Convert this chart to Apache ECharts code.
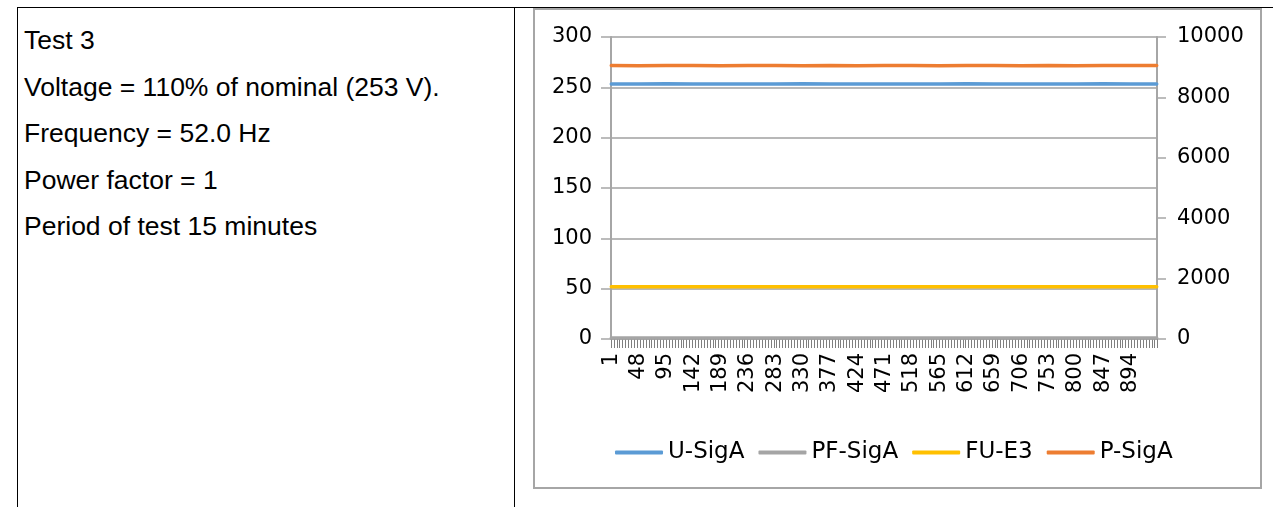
<!DOCTYPE html>
<html>
<head>
<meta charset="utf-8">
<script src="https://cdn.jsdelivr.net/npm/echarts@6/dist/echarts.min.js"></script>
<style>
  body { margin: 0; width: 1273px; height: 507px; position: relative; overflow: hidden; background: #fff; }
  .rule { position: absolute; background: #000; }
  .frame { position: absolute; left: 533px; top: 8px; width: 729px; height: 481px; box-sizing: border-box; border: 2px solid #a6a6a6; }
  .cell-text { position: absolute; left: 24px; font-family: "Liberation Sans", Arial, sans-serif; font-size: 26.5px; line-height: 30px; color: #000; white-space: nowrap; }
  #chart { position: absolute; left: 0; top: 0; width: 1273px; height: 507px; }
</style>
</head>
<body>
<div class="rule" style="left:17px; top:7px; width:1256px; height:1px;"></div>
<div class="rule" style="left:17px; top:7px; width:1px; height:500px;"></div>
<div class="rule" style="left:514px; top:7px; width:1px; height:500px;"></div>
<div class="frame"></div>
<div class="cell-text" style="top:25px;">Test 3</div>
<div class="cell-text" style="top:72px;">Voltage = 110% of nominal (253 V).</div>
<div class="cell-text" style="top:118px;">Frequency = 52.0 Hz</div>
<div class="cell-text" style="top:165px;">Power factor = 1</div>
<div class="cell-text" style="top:211px;">Period of test 15 minutes</div>
<div id="chart"></div>
<script>
// samples 1..939 (one per second, ~15 min)
const sampleCount = 939
const categories = []
for (let i = 1; i <= sampleCount; i++) categories.push(String(i))

// readings at these sample indexes
const readAt = [0, 47, 94, 141, 188, 235, 282, 329, 376, 423, 470, 517, 564, 611, 658, 705, 752, 799, 846, 893, 938]
const uSigA = [253.4, 253.4, 253.5, 253.4, 253.4, 253.4, 253.4, 253.5, 253.4, 253.4, 253.4, 253.4, 253.4, 253.5, 253.4, 253.4, 253.4, 253.4, 253.5, 253.4, 253.4]
const pfSigA = [1.0, 1.0, 1.0, 1.0, 1.0, 1.0, 1.0, 1.0, 1.0, 1.0, 1.0, 1.0, 1.0, 1.0, 1.0, 1.0, 1.0, 1.0, 1.0, 1.0, 1.0]
const fuE3 = [52.0, 52.0, 52.0, 52.0, 52.0, 52.0, 52.0, 52.0, 52.0, 52.0, 52.0, 52.0, 52.0, 52.0, 52.0, 52.0, 52.0, 52.0, 52.0, 52.0, 52.0]
const pSigA = [9055, 9050, 9060, 9055, 9048, 9058, 9055, 9052, 9060, 9050, 9055, 9057, 9050, 9058, 9055, 9052, 9057, 9050, 9055, 9053, 9056]

const leftTicks = { min: 0, max: 300, interval: 50 }
const rightTicks = { min: 0, max: 10000, interval: 2000 }

const chartFont = 'DejaVu Sans'
const pairs = vals => vals.map((v, i) => [readAt[i], v])

const chart = echarts.init(document.getElementById('chart'))

const lineSeries = (name, vals, color, axis) => ({
  name: name,
  type: 'line',
  yAxisIndex: axis,
  data: pairs(vals),
  showSymbol: false,
  animation: false,
  lineStyle: { color: color, width: 3.5, cap: 'round' },
  itemStyle: { color: color }
})

chart.setOption({
  textStyle: { fontFamily: chartFont },
  grid: { left: 611, right: 116, top: 37, bottom: 168 },
  legend: {
    left: 610,
    top: 436,
    icon: 'roundRect',
    itemWidth: 48,
    itemHeight: 4,
    itemGap: 14,
    textStyle: { fontFamily: chartFont, fontSize: 23, color: '#000' },
    data: ['U-SigA', 'PF-SigA', 'FU-E3', 'P-SigA']
  },
  xAxis: {
    type: 'category',
    data: categories,
    boundaryGap: true,
    axisLine: { show: true, lineStyle: { color: '#a6a6a6', width: 2 } },
    axisTick: { show: true, interval: 4, length: 9, lineStyle: { color: '#7f7f7f', width: 1 } },
    axisLabel: { interval: 46, rotate: 90, margin: 14, fontSize: 21, color: '#000' },
    splitLine: { show: false }
  },
  yAxis: [{
    type: 'value',
    min: leftTicks.min,
    max: leftTicks.max,
    interval: leftTicks.interval,
    axisLine: { show: true, lineStyle: { color: '#a6a6a6', width: 2 } },
    axisTick: { show: true, length: 10, lineStyle: { color: '#a6a6a6', width: 1.5 } },
    axisLabel: { margin: 19, fontSize: 21, color: '#000' },
    splitLine: { lineStyle: { color: '#a0a0a0', width: 1.5 } }
  }, {
    type: 'value',
    position: 'right',
    min: rightTicks.min,
    max: rightTicks.max,
    interval: rightTicks.interval,
    axisLine: { show: true, lineStyle: { color: '#a6a6a6', width: 2 } },
    axisTick: { show: true, length: 9, lineStyle: { color: '#a6a6a6', width: 1.5 } },
    axisLabel: { margin: 20, fontSize: 21, color: '#000', formatter: v => String(v) },
    splitLine: { show: false }
  }],
  series: [
    lineSeries('U-SigA', uSigA, '#5b9bd5', 0),
    lineSeries('PF-SigA', pfSigA, '#a5a5a5', 0),
    lineSeries('FU-E3', fuE3, '#ffc000', 0),
    lineSeries('P-SigA', pSigA, '#ed7d31', 1)
  ]
})
</script>
</body>
</html>
